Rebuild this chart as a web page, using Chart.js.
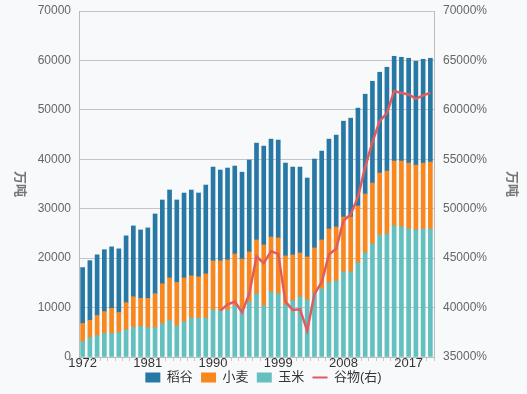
<!DOCTYPE html>
<html>
<head>
<meta charset="utf-8">
<script src="https://cdn.jsdelivr.net/npm/chart.js@4/dist/chart.umd.min.js"></script>
<style>
  body { margin: 0; background: #f8f9fb; }
  #wrap { width: 527px; height: 394px; }
</style>
</head>
<body>
<div id="wrap"><canvas id="chart" width="527" height="394"></canvas></div>
<script>
const years = ["1972","1973","1974","1975","1976","1977","1978","1979","1980","1981",
  "1982","1983","1984","1985","1986","1987","1988","1989","1990","1991",
  "1992","1993","1994","1995","1996","1997","1998","1999","2000","2001",
  "2002","2003","2004","2005","2006","2007","2008","2009","2010","2011",
  "2012","2013","2014","2015","2016","2017","2018","2019","2020"];

// 万吨
const rice = [11300,12070,12260,12530,12430,12870,13510,14310,13840,14250,
  16130,16940,17770,16690,17160,17360,16960,17970,18980,18370,
  18570,17770,17570,18580,19580,19990,19790,19790,18780,17770,
  17360,15950,17970,17970,18170,18580,19380,19990,19790,20190,
  20590,20390,21000,21200,21000,21200,21000,21000,21000];
const wheat = [3660,3490,4070,4400,5070,4000,5450,6250,5650,5910,
  6850,8060,8620,8750,8880,8550,8350,8950,9890,10100,
  10100,10500,9920,10100,10900,12320,11100,11310,9890,9290,
  8880,8680,9090,9890,10900,10900,11100,11100,11510,11910,
  12320,12520,12720,13120,13330,13330,13120,13330,13530];
const corn = [3130,3940,4340,4780,4780,5010,5550,5960,6220,5960,
  5960,6760,7400,6330,7130,7870,7870,7870,9560,9360,
  9560,10360,9900,11170,12790,10360,13190,12790,10570,11370,
  12180,11580,12990,13800,15010,15410,17230,17230,19050,21070,
  22880,24700,24900,26520,26310,25910,25710,25910,25910];
const cereal = [null,null,null,null,null,null,null,null,null,null,
  null,null,null,null,null,null,null,null,null,39690,
  40300,40600,39520,41380,45160,44480,45700,45430,40600,39760,
  39830,37670,41380,42560,45360,45940,48800,49410,51170,54200,
  56740,58860,59670,61900,61700,61560,61120,61460,61730];

const leftTicks = [0, 70000];
const rightTicks = [35000, 70000];

const BLUE = "#2878a6", ORANGE = "#f8881d", TEAL = "#63c0bf", RED = "#e25b5e";
const FONT = "'Liberation Sans', 'Noto Sans CJK SC', sans-serif";

// both axis titles are turned clockwise in the original
const axisTitles = {
  id: "axisTitles",
  afterDraw(chart) {
    const ctx = chart.ctx;
    const a = chart.chartArea;
    const mid = (a.top + a.bottom) / 2;
    ctx.save();
    ctx.fillStyle = "#777";
    ctx.font = "bold 13px " + FONT;
    ctx.textAlign = "center";
    ctx.textBaseline = "middle";
    [20, 512].forEach(x => {
      ctx.save();
      ctx.translate(x, mid);
      ctx.rotate(Math.PI / 2);
      ctx.fillText("万吨", 0, 0);
      ctx.restore();
    });
    ctx.restore();
  }
};

const legendRank = [2, 1, 0, 3];

new Chart(document.getElementById("chart").getContext("2d"), {
  data: {
    labels: years,
    datasets: [
      { type: "bar", label: "玉米", data: corn, backgroundColor: TEAL, stack: "s", order: 1 },
      { type: "bar", label: "小麦", data: wheat, backgroundColor: ORANGE, stack: "s", order: 1 },
      { type: "bar", label: "稻谷", data: rice, backgroundColor: BLUE, stack: "s", order: 1 },
      {
        type: "line", label: "谷物(右)", data: cereal, yAxisID: "y1",
        borderColor: RED, backgroundColor: RED, borderWidth: 2.5,
        pointRadius: 0, tension: 0, order: 0
      }
    ]
  },
  options: {
    responsive: false,
    animation: false,
    layout: { padding: { top: 11, left: 0, right: 0, bottom: 0 } },
    datasets: { bar: { barThickness: 4 } },
    scales: {
      x: {
        stacked: true,
        grid: { drawOnChartArea: false, color: "#c8c8c8", tickLength: 4 },
        border: { color: "#bbb" },
        ticks: {
          autoSkip: false, maxRotation: 0, padding: -5,
          color: "#333", font: { family: FONT, size: 13 },
          callback: (v, i) => (i % 9 === 0 ? years[i] : "")
        },
        afterFit: s => { s.height = 13; }
      },
      y: {
        stacked: true,
        min: leftTicks[0], max: leftTicks[1],
        ticks: { stepSize: 10000, padding: 8, color: "#666", font: { family: FONT, size: 12 },
          callback: v => String(v) },
        grid: { color: "#c4c4c4", drawTicks: false },
        border: { color: "#bbb" },
        afterFit: s => { s.width = 79; s.paddingTop = 0; s.paddingBottom = 0; }
      },
      y1: {
        position: "right",
        min: rightTicks[0], max: rightTicks[1],
        ticks: {
          stepSize: 5000, padding: 9, color: "#666", font: { family: FONT, size: 12 },
          callback: v => v + "%"
        },
        grid: { drawOnChartArea: false, drawTicks: false },
        border: { color: "#bbb" },
        afterFit: s => { s.width = 93; s.paddingTop = 0; s.paddingBottom = 0; }
      }
    },
    plugins: {
      tooltip: { enabled: false },
      legend: {
        position: "bottom",
        labels: {
          usePointStyle: true,
          pointStyleWidth: 15,
          boxHeight: 10,
          padding: 1,
          color: "#333",
          font: { family: FONT, size: 13 },
          sort: (a, b) => legendRank[a.datasetIndex] - legendRank[b.datasetIndex],
          generateLabels: chart => {
            const items = Chart.defaults.plugins.legend.labels.generateLabels(chart);
            items.forEach(it => {
              if (it.datasetIndex === 3) {
                it.pointStyle = "line";
                it.lineWidth = 2;
                it.strokeStyle = RED;
              } else {
                it.pointStyle = "rect";
                it.lineWidth = 0;
                it.text = it.text + "  ";
              }
            });
            return items;
          }
        }
      }
    }
  },
  plugins: [axisTitles]
});
</script>
</body>
</html>
